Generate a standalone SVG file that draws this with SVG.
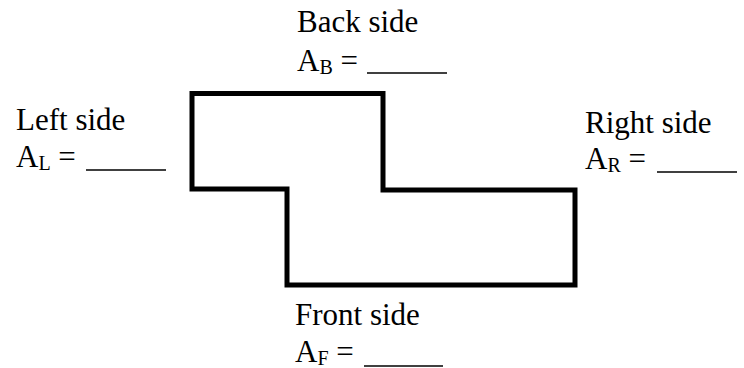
<svg xmlns="http://www.w3.org/2000/svg" width="744" height="368" viewBox="0 0 744 368">
<style>
text{font-family:"Liberation Serif","Times New Roman",serif;font-size:31px;fill:#000}
.sub{font-size:20px}
.blank{stroke:#000;stroke-width:1.5}
.shape{fill:none;stroke:#000;stroke-width:5;stroke-linejoin:miter}
</style>
<rect width="744" height="368" fill="#fff"/>
<g id="shape">
<polygon class="shape" points="192,93.5 383,93.5 383,190 575,190 575,285 287,285 287,189 192,189"/>
</g>
<g id="back">
<text x="297" y="32">Back side</text>
<text x="297" y="71">A<tspan class="sub" dy="3">B</tspan><tspan dy="-3"> =</tspan></text>
<line class="blank" x1="367" y1="73" x2="447" y2="73"/>
</g>
<g id="left">
<text x="16" y="130">Left side</text>
<text x="16" y="167">A<tspan class="sub" dy="3">L</tspan><tspan dy="-3"> =</tspan></text>
<line class="blank" x1="86" y1="170" x2="166" y2="170"/>
</g>
<g id="right">
<text x="585" y="133">Right side</text>
<text x="585" y="169">A<tspan class="sub" dy="3">R</tspan><tspan dy="-3"> =</tspan></text>
<line class="blank" x1="657" y1="172" x2="737" y2="172"/>
</g>
<g id="front">
<text x="295" y="325">Front side</text>
<text x="295" y="362">A<tspan class="sub" dy="3">F</tspan><tspan dy="-3"> =</tspan></text>
<line class="blank" x1="364" y1="366" x2="443" y2="366"/>
</g>
</svg>
